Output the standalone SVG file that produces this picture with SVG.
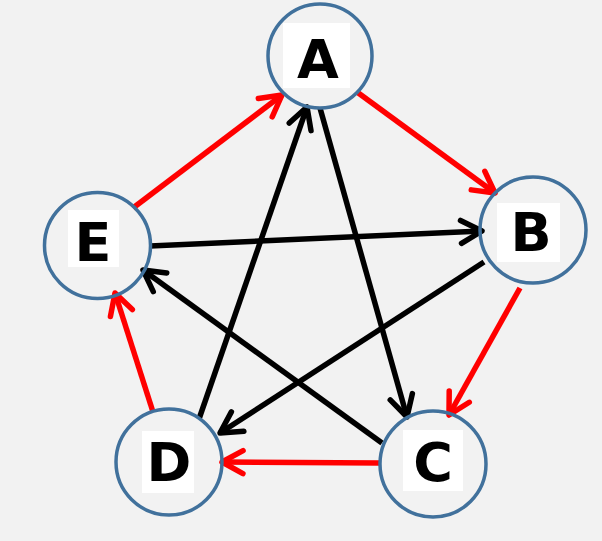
<svg xmlns="http://www.w3.org/2000/svg" width="602" height="541" viewBox="0 0 602 541">
<style>
.bg{fill:#f2f2f2}
.ring{fill:none;stroke:#41719c;stroke-width:3.5}
.box{fill:#ffffff}
.lbl{font-family:"DejaVu Sans",sans-serif;font-weight:bold;font-size:54px;fill:#000;text-anchor:middle}
.e{fill:none;stroke-width:5.5;stroke-linecap:butt}
.red{stroke:#ff0000}
.blk{stroke:#000000}
</style>
<defs>
<marker id="ar" viewBox="-26 -16 30 32" markerWidth="30" markerHeight="32" refX="0" refY="0" orient="auto" markerUnits="userSpaceOnUse">
<path d="M-21,-11.5 L0,0 L-21,11.5" fill="none" stroke="#ff0000" stroke-width="5.5" stroke-linecap="round" stroke-linejoin="round"/>
</marker>
<marker id="ab" viewBox="-26 -16 30 32" markerWidth="30" markerHeight="32" refX="0" refY="0" orient="auto" markerUnits="userSpaceOnUse">
<path d="M-21,-11.5 L0,0 L-21,11.5" fill="none" stroke="#000000" stroke-width="5.5" stroke-linecap="round" stroke-linejoin="round"/>
</marker>
</defs>
<rect class="bg" x="0" y="0" width="602" height="541"/>
<g id="connectors">
<line class="e red" x1="133" y1="208" x2="282" y2="95" marker-end="url(#ar)"/>
<line class="e red" x1="357" y1="92" x2="495" y2="193" marker-end="url(#ar)"/>
<line class="e red" x1="520" y1="288" x2="449" y2="415" marker-end="url(#ar)"/>
<line class="e red" x1="380" y1="463" x2="222" y2="462" marker-end="url(#ar)"/>
<line class="e red" x1="153" y1="412" x2="115" y2="293" marker-end="url(#ar)"/>
<line class="e blk" x1="150" y1="246" x2="482" y2="231" marker-end="url(#ab)"/>
<line class="e blk" x1="320" y1="108" x2="407" y2="417" marker-end="url(#ab)"/>
<line class="e blk" x1="484" y1="262" x2="220" y2="433" marker-end="url(#ab)"/>
<line class="e blk" x1="382" y1="443" x2="143" y2="270" marker-end="url(#ab)"/>
<line class="e blk" x1="199" y1="419" x2="307" y2="107" marker-end="url(#ab)"/>
</g>
<g id="node-A">
<rect class="box" x="283" y="23" width="67" height="65"/>
<circle class="ring" cx="320" cy="56" r="52"/>
<text class="lbl" x="318" y="78">A</text>
</g>
<g id="node-B">
<rect class="box" x="497" y="203" width="63" height="59"/>
<circle class="ring" cx="533" cy="230" r="53"/>
<text class="lbl" x="531" y="251">B</text>
</g>
<g id="node-C">
<rect class="box" x="403" y="430" width="60" height="61"/>
<circle class="ring" cx="433" cy="464" r="53"/>
<text class="lbl" x="433" y="481">C</text>
</g>
<g id="node-D">
<rect class="box" x="142" y="431" width="52" height="62"/>
<circle class="ring" cx="169" cy="462" r="53"/>
<text class="lbl" x="169" y="481">D</text>
</g>
<g id="node-E">
<rect class="box" x="68" y="210" width="51" height="57"/>
<circle class="ring" cx="97.5" cy="245.5" r="53"/>
<text class="lbl" x="93" y="261">E</text>
</g>
</svg>
